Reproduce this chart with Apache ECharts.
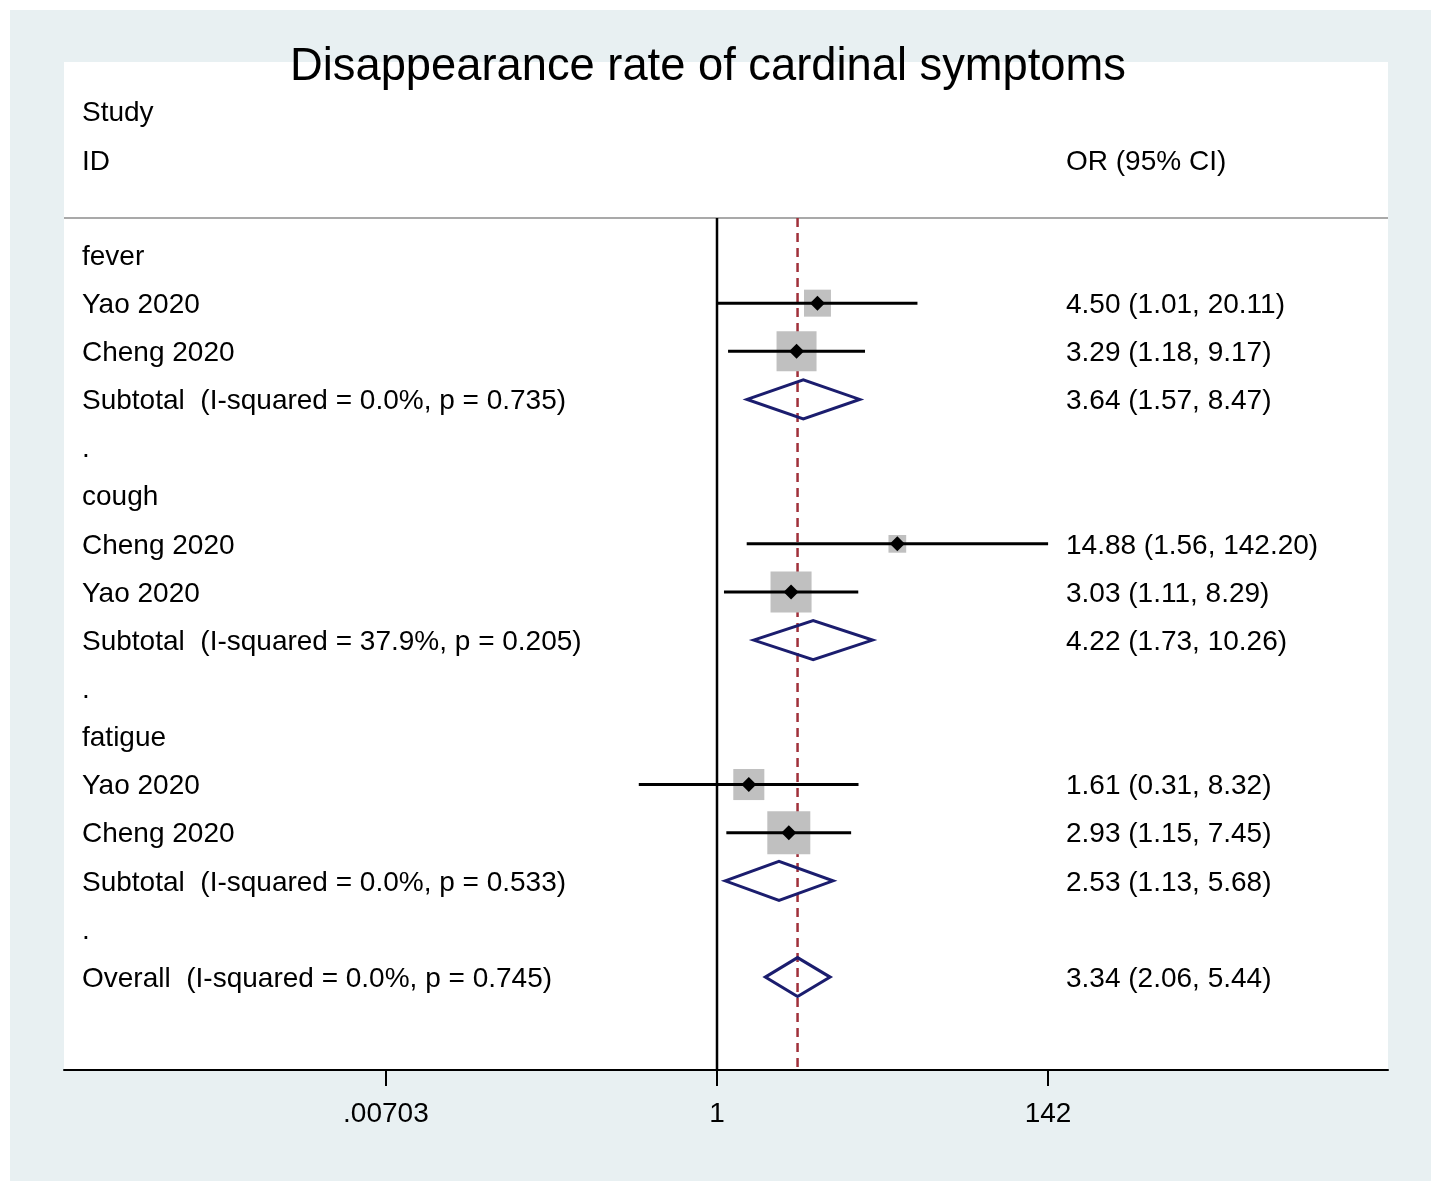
<!DOCTYPE html>
<html>
<head>
<meta charset="utf-8">
<script src="https://cdn.jsdelivr.net/npm/echarts@6/dist/echarts.min.js"></script>
<style>
html,body{margin:0;padding:0;background:#fff;}
#chart{width:1432px;height:1181px;}
</style>
</head>
<body>
<div id="chart"></div>
<script>
// ---- data ----
const titleText = 'Disappearance rate of cardinal symptoms';
const rowLabels = [
  'fever', 'Yao 2020', 'Cheng 2020', 'Subtotal  (I-squared = 0.0%, p = 0.735)', '.',
  'cough', 'Cheng 2020', 'Yao 2020', 'Subtotal  (I-squared = 37.9%, p = 0.205)', '.',
  'fatigue', 'Yao 2020', 'Cheng 2020', 'Subtotal  (I-squared = 0.0%, p = 0.533)', '.',
  'Overall  (I-squared = 0.0%, p = 0.745)'
];
const studyRows = [1, 2, 6, 7, 11, 12];
const studyOR = [4.50, 3.29, 14.88, 3.03, 1.61, 2.93];
const studyLo = [1.01, 1.18, 1.56, 1.11, 0.31, 1.15];
const studyHi = [20.11, 9.17, 142.20, 8.29, 8.32, 7.45];
const studyWeight = [10.2, 22.4, 4.4, 23.6, 13.5, 25.9];
const pooledRows = [3, 8, 13, 15];
const pooledOR = [3.64, 4.22, 2.53, 3.34];
const pooledLo = [1.57, 1.73, 1.13, 2.06];
const pooledHi = [8.47, 10.26, 5.68, 5.44];
const overallOR = 3.34;
const nullValue = 1;
const tickValues = [0.00703, 1, 142];
const tickLabels = ['.00703', '1', '142'];
const headerStudy = 'Study';
const headerID = 'ID';
const headerOR = 'OR (95% CI)';

// ---- helpers ----
const L = Math.log10;
const fmt = (o, a, b) => o.toFixed(2) + ' (' + a.toFixed(2) + ', ' + b.toFixed(2) + ')';
const FONT = '"Liberation Sans", Arial, sans-serif';
const TXT = '28px ' + FONT;

const studyData = studyRows.map((r, i) => [r, L(studyOR[i]), L(studyLo[i]), L(studyHi[i]), studyWeight[i]]);
const pooledData = pooledRows.map((r, i) => [r, L(pooledOR[i]), L(pooledLo[i]), L(pooledHi[i])]);
const leftTextData = rowLabels.map((t, i) => [i, t]);
const rightTextData = studyRows.map((r, i) => [r, fmt(studyOR[i], studyLo[i], studyHi[i])])
  .concat(pooledRows.map((r, i) => [r, fmt(pooledOR[i], pooledLo[i], pooledHi[i])]));

const chart = echarts.init(document.getElementById('chart'), null, {renderer: 'canvas'});

const option = {
  backgroundColor: '#ffffff',
  animation: false,
  graphic: [
    {type: 'rect', z: -20, shape: {x: 10, y: 10, width: 1421, height: 1171}, style: {fill: '#e8f0f2'}},
    {type: 'rect', z: -19, shape: {x: 64, y: 62, width: 1324, height: 1008}, style: {fill: '#ffffff'}},
    {type: 'line', z: -18, shape: {x1: 64, y1: 218, x2: 1388, y2: 218}, style: {stroke: '#a9a9a9', lineWidth: 2}},
    {type: 'text', z: 5, x: 708, y: 68, style: {text: titleText, font: '45.3px ' + FONT, fill: '#000', align: 'center', verticalAlign: 'middle'}},
    {type: 'text', z: 5, x: 82, y: 113, style: {text: headerStudy, font: TXT, fill: '#000', align: 'left', verticalAlign: 'middle'}},
    {type: 'text', z: 5, x: 82, y: 162, style: {text: headerID, font: TXT, fill: '#000', align: 'left', verticalAlign: 'middle'}},
    {type: 'text', z: 5, x: 1066, y: 162, style: {text: headerOR, font: TXT, fill: '#000', align: 'left', verticalAlign: 'middle'}}
  ],
  grid: {left: 64, right: 44, top: 218, bottom: 111, containLabel: false, outerBoundsMode: 'none'},
  xAxis: {
    type: 'value',
    min: -4.246,
    max: 4.363,
    axisLine: {show: true, onZero: false, lineStyle: {color: '#000', width: 2}},
    splitLine: {show: false},
    axisTick: {show: true, length: 16, customValues: tickValues.map(L), lineStyle: {color: '#000', width: 2}},
    axisLabel: {
      show: true,
      customValues: tickValues.map(L),
      margin: 30,
      fontSize: 28,
      fontFamily: FONT,
      color: '#000',
      formatter: function (v) {
        let best = 0, bd = Infinity;
        tickValues.forEach((t, i) => { const d = Math.abs(L(t) - v); if (d < bd) { bd = d; best = i; } });
        return tickLabels[best];
      }
    }
  },
  yAxis: {
    type: 'value',
    inverse: true,
    min: -0.769,
    max: 16.93,
    show: false
  },
  series: [
    {
      // reference lines (null line & overall estimate)
      type: 'custom',
      z: 1,
      data: [[L(nullValue), 0], [L(overallOR), 1]],
      renderItem: function (params, api) {
        const cs = params.coordSys;
        const x = api.coord([api.value(0), 0])[0];
        const isNull = api.value(1) === 0;
        return {
          type: 'line',
          shape: {x1: x, y1: cs.y, x2: x, y2: cs.y + cs.height},
          style: isNull
            ? {stroke: '#000', lineWidth: 2.5}
            : {stroke: '#a0303a', lineWidth: 2.5, lineDash: [9, 6]}
        };
      }
    },
    {
      // individual studies
      type: 'custom',
      z: 3,
      data: studyData,
      renderItem: function (params, api) {
        const row = api.value(0);
        const c = api.coord([api.value(1), row]);
        const l = api.coord([api.value(2), row]);
        const h = api.coord([api.value(3), row]);
        const side = 8.45 * Math.sqrt(api.value(4));
        const m = 7.5;
        return {
          type: 'group',
          children: [
            {type: 'rect', shape: {x: c[0] - side / 2, y: c[1] - side / 2, width: side, height: side}, style: {fill: '#c0c0c0'}},
            {type: 'line', shape: {x1: l[0], y1: c[1], x2: h[0], y2: c[1]}, style: {stroke: '#000', lineWidth: 3}},
            {type: 'polygon', shape: {points: [[c[0] - m, c[1]], [c[0], c[1] - m], [c[0] + m, c[1]], [c[0], c[1] + m]]}, style: {fill: '#000'}}
          ]
        };
      }
    },
    {
      // pooled diamonds
      type: 'custom',
      z: 3,
      data: pooledData,
      renderItem: function (params, api) {
        const row = api.value(0);
        const c = api.coord([api.value(1), row]);
        const l = api.coord([api.value(2), row]);
        const h = api.coord([api.value(3), row]);
        const hh = 19.5;
        return {
          type: 'polygon',
          shape: {points: [[l[0], c[1]], [c[0], c[1] - hh], [h[0], c[1]], [c[0], c[1] + hh]]},
          style: {fill: 'none', stroke: '#1b1d6e', lineWidth: 3, lineJoin: 'miter'}
        };
      }
    },
    {
      // left labels
      type: 'custom',
      z: 4,
      data: leftTextData,
      renderItem: function (params, api) {
        const cs = params.coordSys;
        const y = api.coord([0, api.value(0)])[1];
        return {
          type: 'text',
          x: cs.x + 18,
          y: y + 2,
          style: {text: leftTextData[params.dataIndex][1], font: TXT, fill: '#000', align: 'left', verticalAlign: 'middle'}
        };
      }
    },
    {
      // right labels
      type: 'custom',
      z: 4,
      data: rightTextData,
      renderItem: function (params, api) {
        const cs = params.coordSys;
        const y = api.coord([0, api.value(0)])[1];
        return {
          type: 'text',
          x: cs.x + 1002,
          y: y + 2,
          style: {text: rightTextData[params.dataIndex][1], font: TXT, fill: '#000', align: 'left', verticalAlign: 'middle'}
        };
      }
    }
  ]
};
chart.setOption(option);
</script>
</body>
</html>
